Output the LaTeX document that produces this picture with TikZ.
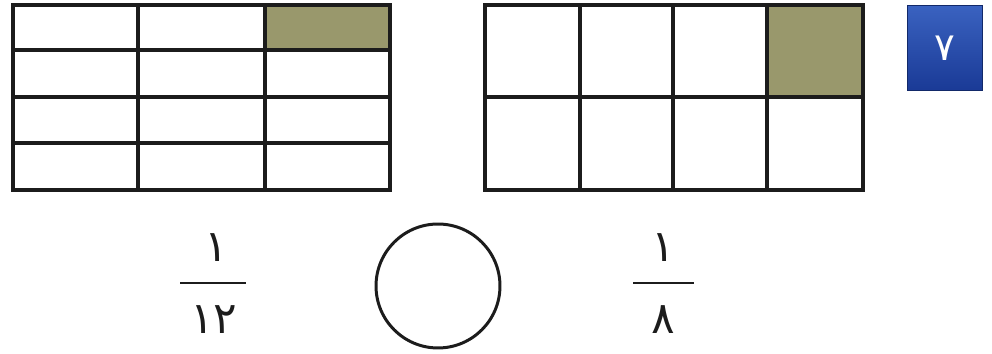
\documentclass[tikz,border=0pt]{standalone}
\usepackage{fontspec}
\usetikzlibrary{positioning,calc}
\TeXXeTstate=1
\newfontfamily\arabicfont[Script=Arabic]{DejaVu Sans}
\definecolor{ink}{HTML}{1c1c1c}
\definecolor{olive}{HTML}{99986C}
\definecolor{badgetop}{HTML}{3A62C0}
\definecolor{badgebot}{HTML}{1A3A96}

\begin{document}
\begin{tikzpicture}[x=0.02cm,y=-0.02cm,
  cellline/.style={ink,line width=2.6pt},
  fracbar/.style={ink,line width=1.7pt},
  digit/.style={ink,font=\arabicfont\fontsize{25}{25}\selectfont,inner sep=0pt},
  badge/.style={draw=badgebot!70!black,line width=0.6pt,top color=badgetop,bottom color=badgebot,
    minimum width=1.5cm,minimum height=1.7cm,text=white,
    font=\arabicfont\fontsize{22}{22}\selectfont}]
  \useasboundingbox (0,0) rectangle (992,354);
  % grid of twelfths
  \fill[olive] (265,5) rectangle (390,50);
  \foreach \x in {138,265} \draw[cellline] (\x,5) -- (\x,190);
  \foreach \y in {50,97,143} \draw[cellline] (13,\y) -- (390,\y);
  \draw[cellline] (13,5) rectangle (390,190);
  % grid of eighths
  \fill[olive] (767,5) rectangle (863,97);
  \foreach \x in {580,673,767} \draw[cellline] (\x,5) -- (\x,190);
  \draw[cellline] (485,97) -- (863,97);
  \draw[cellline] (485,5) rectangle (863,190);
  % question number
  \node[badge] (qnum) at (945,48) {٧};
  % fractions and the circle to compare them
  \node[digit] (numA) at (216,248) {١};
  \node[digit] (denA) at (214,320) {١٢};
  \draw[fracbar] (180,283) -- (246,283);
  \node[circle,draw=ink,line width=1.7pt,minimum size=2.48cm] (cmp) at (438,286) {};
  \node[digit] (numB) at (663,248) {١};
  \node[digit] (denB) at (663,320) {٨};
  \draw[fracbar] (633,283) -- (694,283);
\end{tikzpicture}
\end{document}
